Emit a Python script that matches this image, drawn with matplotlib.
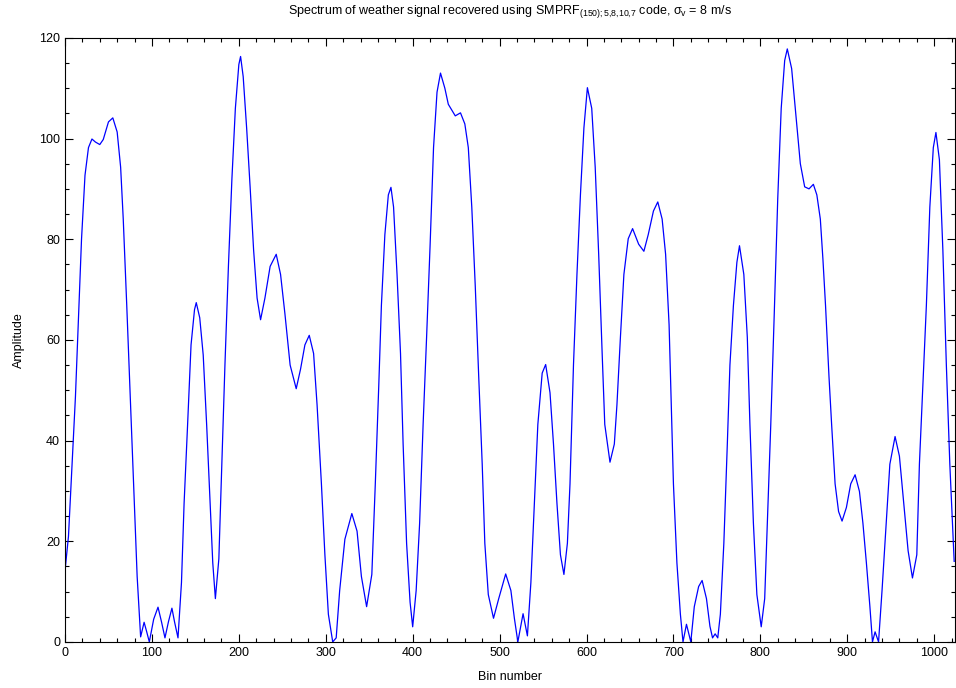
import matplotlib
matplotlib.use("Agg")
import matplotlib.pyplot as plt
from matplotlib.ticker import MultipleLocator

# ── Data ───────────────────────────────────────────────────────────────────────
bins = [
    0, 4, 8, 12, 15, 19, 23, 27, 31, 35, 40, 44, 50, 55, 60, 64, 67, 71, 75, 79,
    83, 87, 91, 94, 97, 102, 107, 111, 115, 119, 123, 126, 130, 134, 137, 141, 145,
    149, 151, 155, 159, 163, 167, 170, 173, 177, 180, 184, 188, 192, 196, 200, 202,
    205, 209, 213, 217, 221, 225, 230, 236, 243, 248, 253, 259, 266, 271, 276, 281,
    286, 290, 295, 299, 303, 308, 312, 316, 322, 330, 336, 341, 347, 353, 357, 361,
    364, 368, 372, 375, 378, 382, 386, 389, 393, 397, 400, 404, 408, 412, 416, 420,
    424, 428, 432, 437, 441, 449, 455, 460, 464, 468, 472, 476, 480, 483, 487, 493,
    499, 507, 513, 517, 521, 527, 532, 536, 540, 544, 549, 553, 558, 562, 566, 570,
    574, 578, 581, 585, 589, 593, 597, 601, 606, 610, 614, 618, 621, 627, 632, 635,
    639, 643, 648, 653, 660, 666, 671, 677, 682, 687, 691, 695, 700, 704, 708, 711,
    715, 720, 724, 729, 733, 738, 742, 745, 748, 751, 754, 758, 762, 765, 769, 773,
    776, 781, 785, 788, 792, 796, 801, 805, 808, 812, 816, 820, 824, 828, 831, 836,
    841, 846, 851, 856, 861, 865, 869, 872, 875, 879, 882, 886, 890, 894, 899, 904,
    909, 914, 918, 922, 926, 929, 932, 936, 940, 944, 949, 955, 960, 965, 970, 975,
    980, 983, 987, 991, 995, 999, 1002, 1006, 1010, 1014, 1018, 1021, 1023,
]
amplitude = [
    14.1, 21.0, 35.0, 48.7, 62.0, 80.0, 92.7, 98.2, 99.9, 99.3, 98.8, 99.8, 103.3,
    104.1, 101.3, 94.3, 84.0, 67.0, 49.0, 31.4, 13.0, 1.0, 3.9, 2.0, 0.0, 4.5, 6.9,
    4.0, 0.8, 4.0, 6.7, 4.0, 0.8, 11.8, 27.5, 43.0, 59.0, 66.0, 67.4, 64.4, 57.0,
    43.0, 27.5, 15.7, 8.6, 16.5, 33.0, 55.0, 74.6, 91.9, 106.0, 114.7, 116.3, 112.3,
    102.0, 90.3, 77.8, 68.3, 64.0, 68.3, 74.6, 77.0, 73.0, 65.2, 55.0, 50.3, 54.2,
    59.0, 60.9, 57.3, 47.1, 31.4, 17.3, 5.5, 0.0, 0.8, 10.2, 20.4, 25.5, 22.0, 13.0,
    7.0, 13.4, 31.4, 51.0, 66.8, 80.9, 88.8, 90.3, 86.4, 73.0, 57.3, 39.3, 19.6, 7.9,
    3.0, 10.2, 23.6, 43.2, 60.5, 78.6, 98.2, 109.2, 113.0, 110.0, 106.8, 104.5,
    105.1, 102.9, 98.2, 86.4, 70.7, 52.6, 35.3, 19.6, 9.4, 4.7, 8.6, 13.5, 10.2, 4.7,
    0.0, 5.6, 1.2, 11.8, 27.5, 43.2, 53.4, 55.1, 49.5, 39.3, 27.5, 17.3, 13.4, 19.6,
    31.4, 55.0, 73.0, 88.8, 102.1, 110.1, 106.0, 94.3, 77.0, 57.3, 43.2, 35.7, 39.3,
    47.1, 60.5, 73.0, 80.1, 82.1, 79.0, 77.6, 80.9, 85.6, 87.4, 84.0, 77.0, 63.0, 31.4,
    15.7, 5.5, 0.0, 3.5, 0.0, 7.0, 11.0, 12.2, 8.6, 3.1, 0.8, 1.6, 0.8, 5.5, 19.6,
    39.3, 55.0, 66.8, 75.4, 78.7, 73.0, 60.5, 43.2, 23.6, 9.4, 3.0, 8.6, 23.6, 43.2,
    65.2, 88.0, 106.0, 115.5, 117.8, 113.9, 104.5, 95.0, 90.4, 90.0, 90.9, 88.8, 84.0,
    76.0, 66.8, 52.6, 43.2, 31.4, 25.9, 24.0, 26.7, 31.4, 33.2, 29.9, 23.6, 15.7, 7.1,
    0.0, 2.0, 0.0, 10.2, 21.2, 35.3, 40.8, 36.9, 27.5, 18.1, 12.7, 17.3, 35.3, 51.0,
    66.8, 86.4, 98.2, 101.2, 95.8, 77.8, 55.0, 35.3, 23.6, 16.0,
]

TITLE = (r"Spectrum of weather signal recovered using SMPRF$_{(150);5{,}8{,}10{,}7}$"
         r" code, $\sigma_\mathregular{v}$ = 8 m/s")

plt.rcParams["font.family"] = ["Liberation Sans", "DejaVu Sans"]
plt.rcParams["mathtext.fontset"] = "custom"
plt.rcParams["mathtext.rm"] = "Liberation Sans"
plt.rcParams["mathtext.it"] = "Liberation Sans"
plt.rcParams["mathtext.sf"] = "Liberation Sans"

fig = plt.figure(figsize=(9.56, 6.88), dpi=100)
ax = fig.add_axes([0.068, 0.067, 0.931, 0.878])

ax.plot(bins, amplitude, color="#0000ff", linewidth=0.9)

ax.set_xlim(0, 1024)
ax.set_ylim(0, 120)
ax.xaxis.set_major_locator(MultipleLocator(100))
ax.xaxis.set_minor_locator(MultipleLocator(20))
ax.yaxis.set_major_locator(MultipleLocator(20))
ax.yaxis.set_minor_locator(MultipleLocator(5))
ax.tick_params(which="both", direction="in", top=True, right=True,
               labelsize=9, width=0.8)
ax.tick_params(which="major", length=6)
ax.tick_params(which="minor", length=3)
for s in ax.spines.values():
    s.set_linewidth(0.8)

ax.set_xlabel("Bin number", fontsize=9, labelpad=9)
ax.set_ylabel("Amplitude", fontsize=9, labelpad=10)
ax.set_title(TITLE, fontsize=9, pad=17)

fig.savefig("out.png", dpi=100)
